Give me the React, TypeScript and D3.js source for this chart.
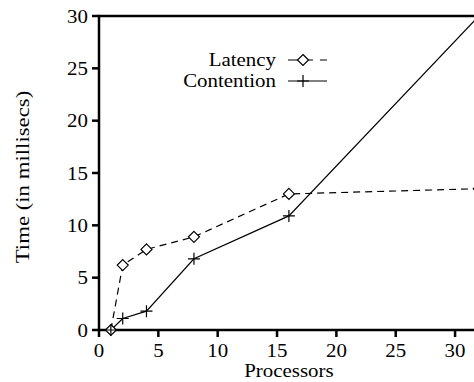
import React, { useEffect, useRef } from 'react';
import * as d3 from 'd3';

// processors on the x axis
const processors = [1, 2, 4, 8, 16, 32];
// time in millisecs
const latency = [0, 6.2, 7.7, 8.9, 13, 13.5];
const contention = [0, 1.1, 1.8, 6.8, 10.9, 30];
const xTicks = [0, 5, 10, 15, 20, 25, 30];
const yTicks = [0, 5, 10, 15, 20, 25, 30];

const FONT = "'Liberation Serif', 'Times New Roman', Times, serif";

const App: React.FC = () => {
  const svgRef = useRef<SVGSVGElement>(null);

  useEffect(() => {
    if (!svgRef.current) return;
    const svg = d3.select(svgRef.current);
    svg.selectAll('*').remove();

    const margin = { top: 16, left: 99 };
    const plotW = 379.8;
    const plotH = 314;

    const x = d3.scaleLinear().domain([0, 32]).range([margin.left, margin.left + plotW]);
    const y = d3.scaleLinear().domain([0, 30]).range([margin.top + plotH, margin.top]);

    const g = svg.append('g');

    // stretched serif text helper
    const label = (tx: number, ty: number, text: string, anchor: string, rotate = 0, stretch = 1.1) =>
      g.append('text')
        .attr('transform', `translate(${tx},${ty}) rotate(${rotate}) scale(${stretch},1)`)
        .attr('text-anchor', anchor)
        .style('font-family', FONT)
        .style('font-size', '19px')
        .attr('fill', '#000')
        .text(text);

    // frame
    g.append('rect')
      .attr('x', x(0))
      .attr('y', y(30))
      .attr('width', x(32) - x(0))
      .attr('height', y(0) - y(30))
      .attr('fill', 'none')
      .attr('stroke', '#000')
      .attr('stroke-width', 2.5);

    // y ticks
    yTicks.forEach(t => {
      g.append('line')
        .attr('x1', x(0) - 7).attr('x2', x(0))
        .attr('y1', y(t)).attr('y2', y(t))
        .attr('stroke', '#000').attr('stroke-width', 2.5);
      label(x(0) - 11, y(t) + 6.5, String(t), 'end');
    });

    // x ticks
    xTicks.forEach(t => {
      g.append('line')
        .attr('x1', x(t)).attr('x2', x(t))
        .attr('y1', y(0)).attr('y2', y(0) + 7)
        .attr('stroke', '#000').attr('stroke-width', 2.5);
      label(x(t), y(0) + 26.5, String(t), 'middle');
    });

    label((x(0) + x(32)) / 2, 377, 'Processors', 'middle');
    label(29, 177, 'Time (in millisecs)', 'middle', -90, 1.2);

    const line = (vals: number[]) =>
      d3.line<number>()
        .x((_, i) => x(processors[i]))
        .y(d => y(d))(vals);

    g.append('path')
      .attr('d', line(latency))
      .attr('fill', 'none')
      .attr('stroke', '#000')
      .attr('stroke-width', 1.2)
      .attr('stroke-dasharray', '7,5');

    g.append('path')
      .attr('d', line(contention))
      .attr('fill', 'none')
      .attr('stroke', '#000')
      .attr('stroke-width', 1.2);

    const diamond = (cx: number, cy: number) =>
      g.append('path')
        .attr('d', `M${cx},${cy - 5.5}L${cx + 5.5},${cy}L${cx},${cy + 5.5}L${cx - 5.5},${cy}Z`)
        .attr('fill', '#fff')
        .attr('stroke', '#000')
        .attr('stroke-width', 1.2);

    const plus = (cx: number, cy: number) =>
      g.append('path')
        .attr('d', `M${cx - 6},${cy}H${cx + 6}M${cx},${cy - 6}V${cy + 6}`)
        .attr('stroke', '#000')
        .attr('stroke-width', 1.2);

    latency.forEach((v, i) => diamond(x(processors[i]), y(v)));
    contention.forEach((v, i) => plus(x(processors[i]), y(v)));

    // legend
    const legX = 288;
    const legW = 39;
    label(276, 66, 'Latency', 'end');
    g.append('line')
      .attr('x1', legX).attr('x2', legX + legW)
      .attr('y1', 60).attr('y2', 60)
      .attr('stroke', '#000').attr('stroke-width', 1.2)
      .attr('stroke-dasharray', '25,7,7,7');
    diamond(legX + 15, 60);

    label(276, 87, 'Contention', 'end');
    g.append('line')
      .attr('x1', legX).attr('x2', legX + legW)
      .attr('y1', 81).attr('y2', 81)
      .attr('stroke', '#000').attr('stroke-width', 1.2);
    plus(legX + 15, 81);
  }, []);

  return (
    <svg
      ref={svgRef}
      width={474}
      height={382}
      style={{ position: 'absolute', left: 0, top: 0, background: '#fff' }}
    />
  );
};

export default App;
